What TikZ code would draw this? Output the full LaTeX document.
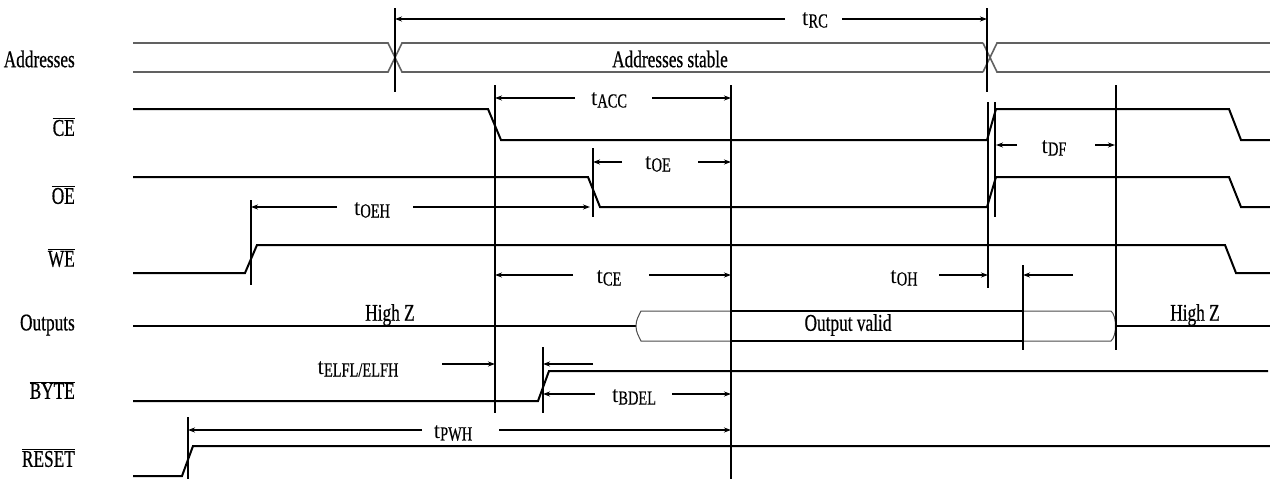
\documentclass[tikz,border=0pt]{standalone}
\usepackage{fontspec}
\setmainfont{Liberation Serif}[FakeStretch=0.72,FakeBold=0.5]
\newfontfamily\tfont{Liberation Serif}
\usetikzlibrary{arrows.meta}
\newcommand{\tsig}[1]{{\tfont\fontsize{23}{23}\selectfont t}\raisebox{-0.5ex}{\fontsize{20}{20}\selectfont #1}}
\newcommand{\ovl}[1]{$\overline{\hbox{#1}}$}
\tikzset{
  sig/.style={line width=2pt, line join=miter},
  addr/.style={line width=1.6pt, draw=black!62},
  thinbus/.style={line width=1pt, draw=black!70},
  vline/.style={line width=2pt},
  dimarrow/.style={line width=1.8pt, -{Stealth[length=7pt,width=5pt]}},
  siglabel/.style={anchor=east, inner sep=0pt, font=\fontsize{24}{24}\selectfont},
  txt/.style={inner sep=0pt, font=\fontsize{24}{24}\selectfont},
  tlabel/.style={inner sep=0pt},
}
\begin{document}
\begin{tikzpicture}[x=1pt,y=-1pt]
\useasboundingbox[fill=white] (0,0) rectangle (1270,479);

% signal names
\node[siglabel] (lAddr) at (75,59) {Addresses};
\node[siglabel] (lCE) at (75,127) {\ovl{CE}};
\node[siglabel] (lOE) at (75,195) {\ovl{OE}};
\node[siglabel] (lWE) at (75,258) {\ovl{WE}};
\node[siglabel] (lOut) at (75,325) {Outputs};
\node[siglabel] (lByte) at (75,390) {\ovl{BYTE}};
\node[siglabel] (lRes) at (75,458) {\ovl{RESET}};

% Addresses bus
\draw[addr] (133,43) -- (388,43) -- (395,57.5) -- (388,72) -- (133,72);
\draw[addr] (983,43) -- (402,43) -- (395,57.5) -- (402,72) -- (983,72);
\draw[addr] (983,43) -- (990,57.5) -- (983,72);
\draw[addr] (1270,43) -- (997,43) -- (990,57.5) -- (997,72) -- (1270,72);
\node[txt] (stable) at (670,59) {Addresses stable};

% CE, OE, WE
\draw[sig] (133,109) -- (488,109) -- (501,140) -- (987,140) -- (996,109) -- (1229,109) -- (1241,140) -- (1270,140);
\draw[sig] (133,177) -- (588,177) -- (600,207) -- (987,207) -- (996,177) -- (1229,177) -- (1241,207) -- (1270,207);
\draw[sig] (133,273) -- (245,273) -- (257,245) -- (1225,245) -- (1236,273) -- (1270,273);

% Outputs
\draw[sig] (133,326) -- (636,326);
\draw[thinbus] (731,311) -- (641,311) to[out=-115,in=90] (636,326) to[out=-90,in=115] (641,341) -- (731,341);
\draw[sig] (731,311) -- (1023,311);
\draw[sig] (731,341) -- (1023,341);
\draw[thinbus] (1023,311) -- (1111,311) .. controls (1117,316) and (1117,336) .. (1111,341) -- (1023,341);
\draw[sig] (1116,326) -- (1270,326);
\node[txt] (hz1) at (390,315) {High Z};
\node[txt] (hz2) at (1195,315) {High Z};
\node[txt] (valid) at (848,325) {Output valid};

% BYTE, RESET
\draw[sig] (133,401) -- (538,401) -- (549,371) -- (1268,371);
\draw[sig] (133,476) -- (182,476) -- (193,446) -- (1270,446);

% vertical reference lines
\draw[vline] (395,8) -- (395,92);
\draw[vline] (987,8) -- (987,92);
\draw[vline] (251,200) -- (251,285);
\draw[vline] (495,85) -- (495,413);
\draw[vline] (593,148) -- (593,217);
\draw[vline] (731,85) -- (731,479);
\draw[vline] (988,102) -- (988,288);
\draw[vline] (995,102) -- (995,217);
\draw[vline] (1116,85) -- (1116,350);
\draw[vline] (1023,265) -- (1023,350);
\draw[line width=2.8pt] (1023,311) -- (1023,341);
\draw[vline] (543,347) -- (543,413);
\draw[vline] (188,417) -- (188,479);

% timing parameters
\node[tlabel] (tRC) at (815,20) {\tsig{RC}};
\draw[dimarrow] (785,19) -- (395,19);
\draw[dimarrow] (842,19) -- (987,19);

\node[tlabel] (tACC) at (609,100) {\tsig{ACC}};
\draw[dimarrow] (575,98) -- (495,98);
\draw[dimarrow] (652,98) -- (731,98);

\node[tlabel] (tOE) at (658,164) {\tsig{OE}};
\draw[dimarrow] (622,162) -- (593,162);
\draw[dimarrow] (698,162) -- (731,162);

\node[tlabel] (tOEH) at (372,210) {\tsig{OEH}};
\draw[dimarrow] (337,207) -- (251,207);
\draw[dimarrow] (413,207) -- (590,207);

\node[tlabel] (tDF) at (1054,148) {\tsig{DF}};
\draw[dimarrow] (1017,145) -- (996,145);
\draw[dimarrow] (1095,145) -- (1115,145);

\node[tlabel] (tCE) at (609,278) {\tsig{CE}};
\draw[dimarrow] (573,275) -- (495,275);
\draw[dimarrow] (649,275) -- (731,275);

\node[tlabel] (tOH) at (904,278) {\tsig{OH}};
\draw[dimarrow] (939,275) -- (988,275);
\draw[dimarrow] (1073,275) -- (1023,275);

\node[tlabel] (tELF) at (358,369) {\tsig{ELFL/ELFH}};
\draw[dimarrow] (442,364) -- (495,364);
\draw[dimarrow] (593,364) -- (543,364);

\node[tlabel] (tBDEL) at (634,397) {\tsig{BDEL}};
\draw[dimarrow] (595,394) -- (543,394);
\draw[dimarrow] (672,394) -- (731,394);

\node[tlabel] (tPWH) at (453,433) {\tsig{PWH}};
\draw[dimarrow] (422,430) -- (188,430);
\draw[dimarrow] (499,430) -- (731,430);
\end{tikzpicture}
\end{document}
